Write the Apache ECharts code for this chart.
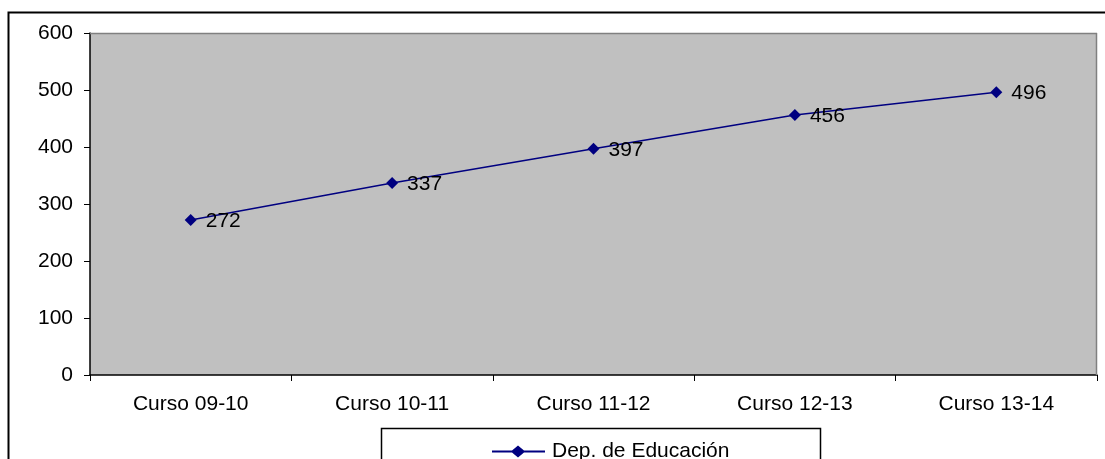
<!DOCTYPE html>
<html><head><meta charset="utf-8">
<script src="https://cdn.jsdelivr.net/npm/echarts@6/dist/echarts.min.js"></script>
<style>html,body{margin:0;padding:0;background:#fff}#c{width:1105px;height:459px}</style>
</head><body><div id="c"></div>
<script>
const categories = ['Curso 09-10','Curso 10-11','Curso 11-12','Curso 12-13','Curso 13-14'];
const values = [272, 337, 397, 456, 496];
const seriesName = 'Dep. de Educación';
const yTicks = [0, 100, 200, 300, 400, 500, 600];

const chart = echarts.init(document.getElementById('c'), null, {renderer:'canvas'});
const font = 'Liberation Sans, Arial, sans-serif';
chart.setOption({
  animation: false,
  backgroundColor: '#fff',
  textStyle: {fontFamily: font},
  graphic: [
    {type:'rect', shape:{x:8.5,y:12.5,width:1110,height:470}, style:{fill:'none',stroke:'#000',lineWidth:2}, z:0},
    {type:'rect', shape:{x:381.5,y:428.5,width:439,height:50}, style:{fill:'#fff',stroke:'#000',lineWidth:1.5}, z:0},
    {type:'line', shape:{x1:90,y1:33.5,x2:1097,y2:33.5}, style:{stroke:'#808080',lineWidth:1.5}, z:5},
    {type:'line', shape:{x1:1096.5,y1:33,x2:1096.5,y2:375}, style:{stroke:'#808080',lineWidth:1.5}, z:5}
  ],
  grid: {left:90, top:33, right:8, bottom:84, show:true, backgroundColor:'#C0C0C0', borderWidth:0},
  legend: {
    data:[{name:seriesName, icon:'path://M0,5 L20,5 L26,0 L32,5 L53,5 L53,7 L32,7 L26,12 L20,7 L0,7 Z'}],
    left:487, top:436, itemWidth:53, itemHeight:12,
    itemStyle:{color:'#000080'},
    textStyle:{fontFamily:font, fontSize:21, color:'#000', padding:[0,0,0,2]}
  },
  xAxis: {
    type:'category', data:categories, boundaryGap:true,
    axisLine:{lineStyle:{color:'#000',width:1.5}},
    axisTick:{show:true, length:6, lineStyle:{color:'#000'}},
    axisLabel:{fontFamily:font, fontSize:21, color:'#000', margin:19},
    splitLine:{show:false}
  },
  yAxis: {
    type:'value', min:yTicks[0], max:yTicks[yTicks.length-1], interval:100,
    axisLine:{show:true, lineStyle:{color:'#000',width:1.5}},
    axisTick:{show:true, length:6, lineStyle:{color:'#000'}},
    axisLabel:{fontFamily:font, fontSize:21, color:'#000', margin:17},
    splitLine:{show:false}
  },
  series: [{
    name: seriesName, type:'line', data:values,
    symbol:'diamond', symbolSize:12,
    lineStyle:{color:'#000080', width:1.5},
    itemStyle:{color:'#000080'},
    label:{show:true, position:'right', distance:9, offset:[0,1], fontFamily:font, fontSize:21, color:'#000'}
  }]
});
</script></body></html>
